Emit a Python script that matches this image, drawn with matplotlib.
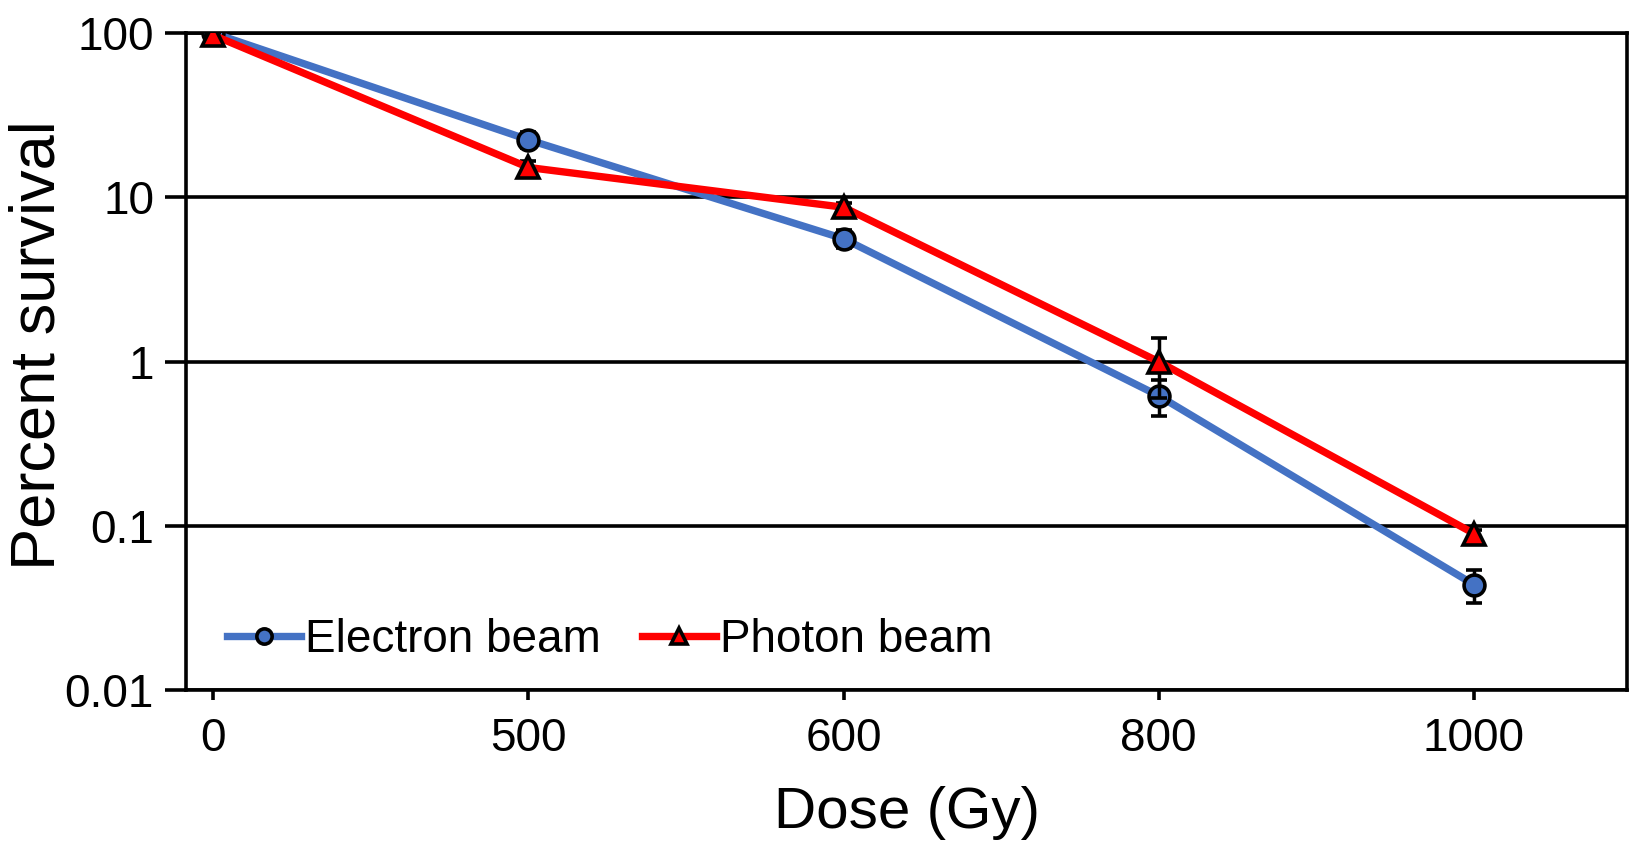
import matplotlib.pyplot as plt
import numpy as np
from matplotlib.ticker import FixedLocator, FixedFormatter, NullLocator
from matplotlib.lines import Line2D

plt.rcParams['font.family'] = ['Liberation Sans', 'DejaVu Sans']

dose_labels = ['0', '500', '600', '800', '1000']
electron = [100, 22.4, 5.6, 0.62, 0.044]
electron_err = [2.0, 2.5, 0.7, 0.15, 0.010]
photon = [97, 15.2, 8.7, 1.0, 0.09]
photon_err = [2.0, 1.5, 0.6, 0.4, 0.005]

blue = '#4472C4'
red = '#FF0000'

fig = plt.figure(figsize=(16.32, 8.46), dpi=100)
ax = fig.add_axes([0.114, 0.184, 0.883, 0.777])

x = np.arange(len(dose_labels))

ax.errorbar(x, electron, yerr=electron_err, color=blue, lw=5.3,
            marker='o', ms=15, mfc=blue, mec='black', mew=2.6,
            ecolor='black', elinewidth=2.5, capsize=5.5, capthick=2.5,
            zorder=3)
ax.errorbar(x, photon, yerr=photon_err, color=red, lw=5.3,
            marker='^', ms=16, mfc=red, mec='black', mew=2.6,
            ecolor='black', elinewidth=2.5, capsize=5.5, capthick=2.5,
            zorder=4)

ax.set_yscale('log')
ax.set_ylim(0.01, 100)
ax.set_xlim(-0.086, 4.486)
yt = [0.01, 0.1, 1, 10, 100]
ax.yaxis.set_major_locator(FixedLocator(yt))
ax.yaxis.set_major_formatter(FixedFormatter(['0.01', '0.1', '1', '10', '100']))
ax.yaxis.set_minor_locator(NullLocator())
ax.set_xticks(x)
ax.set_xticklabels(dose_labels)

ax.grid(axis='y', color='black', lw=2.6)
ax.set_axisbelow(True)
for s in ax.spines.values():
    s.set_linewidth(2.6)
ax.tick_params(axis='y', length=15, width=2.6, pad=8, labelsize=33)
ax.tick_params(axis='x', length=7, width=2.6, pad=12, labelsize=33)

ax.set_xlabel('Dose (Gy)', fontsize=42, labelpad=18)
ax.set_ylabel('Percent survival', fontsize=45.5)
ax.yaxis.set_label_coords(-0.082, 0.525)

handles = [
    Line2D([], [], color=blue, lw=5.3, marker='o', ms=11, mfc=blue, mec='black', mew=2.6),
    Line2D([], [], color=red, lw=5.3, marker='^', ms=12, mfc=red, mec='black', mew=2.6),
]
ax.legend(handles, ['Electron beam', 'Photon beam'], loc='lower left', frameon=False,
          fontsize=33, ncol=2, handlelength=1.6, handletextpad=0.1,
          columnspacing=0.9, bbox_to_anchor=(0.0, -0.02))

fig.savefig('out.png', dpi=100)
